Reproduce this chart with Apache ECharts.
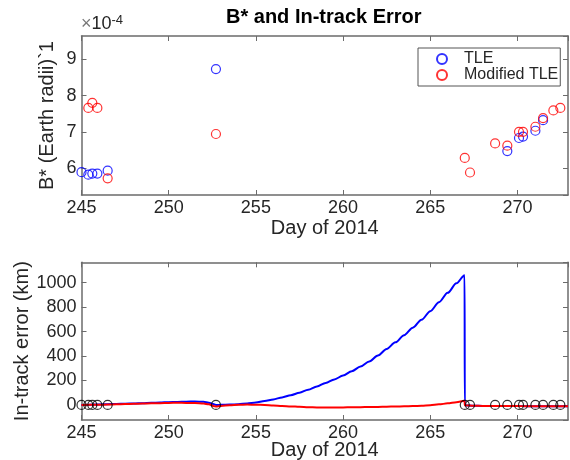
<!DOCTYPE html>
<html>
<head>
<meta charset="utf-8">
<script src="https://cdn.jsdelivr.net/npm/echarts@6/dist/echarts.min.js"></script>
<style>
  html, body { margin: 0; background: #fff; }
  #chart { width: 570px; height: 460px; }
</style>
</head>
<body>
<div id="chart"></div>
<script>
// B* per TLE epoch, in units of 1e-4 (Earth radii)^-1
const tleDays = [245.0, 245.39, 245.62, 245.91, 246.5, 252.71, 269.42, 270.09, 270.32, 271.03, 271.47];
const tleBstar = [5.89, 5.82, 5.85, 5.85, 5.93, 8.73, 6.47, 6.83, 6.87, 7.03, 7.32];
const modDays = [245.39, 245.62, 245.91, 246.5, 252.71, 266.98, 267.28, 268.72, 269.42, 270.09, 270.32, 271.03, 271.47, 272.06, 272.46];
const modBstar = [7.66, 7.80, 7.66, 5.72, 6.94, 6.28, 5.88, 6.68, 6.62, 7.0, 7.0, 7.14, 7.38, 7.59, 7.66];

// epochs marked on the in-track error plot
const epochDays = [245.0, 245.39, 245.62, 245.91, 246.5, 252.71, 266.98, 267.28, 268.72, 269.42, 270.09, 270.32, 271.03, 271.47, 272.06, 272.46];

// in-track error (km)
const errDays = [245.0, 245.5, 246, 246.5, 247, 247.5, 248, 248.5, 249, 249.5, 250, 250.5, 251, 251.5, 252, 252.3, 252.6, 252.71,
  253, 253.5, 254, 254.5, 255, 255.5, 256, 256.5, 257, 257.5, 258, 258.5, 259, 259.5, 260, 260.5, 261, 261.5, 262, 262.5,
  263, 263.5, 264, 264.5, 265, 265.5, 266, 266.5, 266.97, 266.98, 267.5, 268, 268.5, 269, 269.5, 270, 270.5, 271, 271.5,
  272, 272.5, 272.9];
const errTle = [0, 2, 4, 6, 8, 10, 12, 15, 18, 20, 23, 25, 27, 28, 26, 18, 6, 0,
  1, 3, 6, 12, 20, 32, 45, 62, 80, 100, 125, 152, 180, 209, 240, 276, 314, 356, 405, 458,
  512, 570, 632, 697, 767, 840, 917, 995, 1062, -3, -6, -8, -8, -9, -9, -9, -10, -10, -10,
  -10, -10, -10];
const errMod = [0, 1, 2, 3, 5, 7, 9, 11, 13, 15, 17, 18, 17, 16, 12, 5, -10, -12,
  -8, -2, 2, 3, 2, 0, -4, -8, -12, -15, -18, -20, -21, -21, -20, -19, -18, -17, -16, -14,
  -13, -11, -9, -6, -2, 5, 13, 22, 35, -3, -6, -8, -8, -9, -9, -9, -10, -10, -10,
  -10, -10, -10];

const FONT = 'Liberation Sans, Arial, Helvetica, sans-serif';
const AX = '#6b6b6b';
const TXT = '#262626';

const pairs = (xs, ys) => xs.map((x, i) => [x, ys[i]]);

function xAxes(grid, nameGap) {
  const base = {
    type: 'value', gridIndex: grid, min: 245, max: 272.9, interval: 5,
    axisLine: { show: true, onZero: false, lineStyle: { color: AX, width: 1.5 } },
    axisTick: { show: true, inside: true, length: 5, lineStyle: { color: AX } },
    splitLine: { show: false },
  };
  return [
    Object.assign({}, base, {
      position: 'bottom',
      axisLabel: { color: TXT, fontSize: 18, fontFamily: FONT, margin: 4, showMaxLabel: false, formatter: v => String(v) },
      name: 'Day of 2014', nameLocation: 'middle', nameGap: nameGap, nameMoveOverlap: false,
      nameTextStyle: { color: TXT, fontSize: 20, fontFamily: FONT },
    }),
    Object.assign({}, base, { position: 'top', axisLabel: { show: false } }),
  ];
}

function yAxes(grid, min, max, split, name, nameGap) {
  const base = {
    type: 'value', gridIndex: grid, min: min, max: max, splitNumber: split,
    axisLine: { show: true, onZero: false, lineStyle: { color: AX, width: 1.5 } },
    axisTick: { show: true, inside: true, length: 5, lineStyle: { color: AX } },
    splitLine: { show: false },
  };
  return [
    Object.assign({}, base, {
      position: 'left',
      axisLabel: {
        color: TXT, fontSize: 18, fontFamily: FONT, margin: 5,
        showMinLabel: false, showMaxLabel: false, formatter: v => String(v),
      },
      name: name, nameLocation: 'middle', nameGap: nameGap, nameMoveOverlap: false,
      nameTextStyle: { color: TXT, fontSize: 20, fontFamily: FONT },
    }),
    Object.assign({}, base, { position: 'right', axisLabel: { show: false } }),
  ];
}

const chart = echarts.init(document.getElementById('chart'));

const option = {
  animation: false,
  backgroundColor: '#fff',
  grid: [
    { left: 81.5, right: 2, top: 36, height: 159, outerBoundsMode: 'none', containLabel: false },
    { left: 81.5, right: 2, top: 262.3, height: 157.7, outerBoundsMode: 'none', containLabel: false },
  ],
  xAxis: [...xAxes(0, 23), ...xAxes(1, 20)],
  yAxis: [
    ...yAxes(0, 5.26, 9.64, 5, 'B* (Earth radii)`1', 24),
    ...yAxes(1, -123, 1167, 6, 'In-track error (km)', 49),
  ],
  legend: {
    data: ['TLE', 'Modified TLE'],
    orient: 'vertical',
    left: 418, top: 48,
    borderColor: '#555', borderWidth: 1,
    padding: [3, 2, 3, 18],
    itemGap: 0, itemWidth: 10, itemHeight: 10,
    textStyle: { color: TXT, fontSize: 16, fontFamily: FONT, lineHeight: 15, padding: [0, 0, 0, 12] },
  },
  graphic: [
    {
      type: 'text', left: 226, top: 7,
      style: { text: 'B* and In-track Error', fill: '#000', font: 'bold 20px ' + FONT },
    },
    {
      type: 'text', left: 81, top: 14,
      style: {
        text: '{a|×}{b|10}{c|-4}',
        rich: {
          a: { fontSize: 18, fontFamily: FONT, fill: '#777' },
          b: { fontSize: 18, fontFamily: FONT, fill: TXT },
          c: { fontSize: 13, fontFamily: FONT, fill: TXT, verticalAlign: 'top', padding: [0, 0, 8, 0] },
        },
      },
    },
  ],
  series: [
    {
      name: 'TLE', type: 'scatter', xAxisIndex: 0, yAxisIndex: 0,
      data: pairs(tleDays, tleBstar),
      symbol: 'circle', symbolSize: 9,
      itemStyle: { color: 'rgba(0,0,0,0)', borderColor: '#0000ff', borderWidth: 1.2 },
    },
    {
      name: 'Modified TLE', type: 'scatter', xAxisIndex: 0, yAxisIndex: 0,
      data: pairs(modDays, modBstar),
      symbol: 'circle', symbolSize: 9,
      itemStyle: { color: 'rgba(0,0,0,0)', borderColor: '#ff0000', borderWidth: 1.2 },
    },
    {
      name: 'TLE error', type: 'line', xAxisIndex: 2, yAxisIndex: 2,
      data: pairs(errDays, errTle), showSymbol: false,
      smooth: 0.3, smoothMonotone: 'x',
      lineStyle: { color: '#0000ff', width: 2 },
    },
    {
      name: 'Modified error', type: 'line', xAxisIndex: 2, yAxisIndex: 2,
      data: pairs(errDays, errMod), showSymbol: false,
      smooth: 0.3, smoothMonotone: 'x',
      lineStyle: { color: '#ff0000', width: 2 },
    },
    {
      name: 'Epochs', type: 'scatter', xAxisIndex: 2, yAxisIndex: 2,
      data: epochDays.map(d => [d, 0]),
      symbol: 'circle', symbolSize: 9, z: 5,
      itemStyle: { color: 'rgba(0,0,0,0)', borderColor: '#000', borderWidth: 1.2 },
    },
  ],
};

chart.setOption(option);
</script>
</body>
</html>
